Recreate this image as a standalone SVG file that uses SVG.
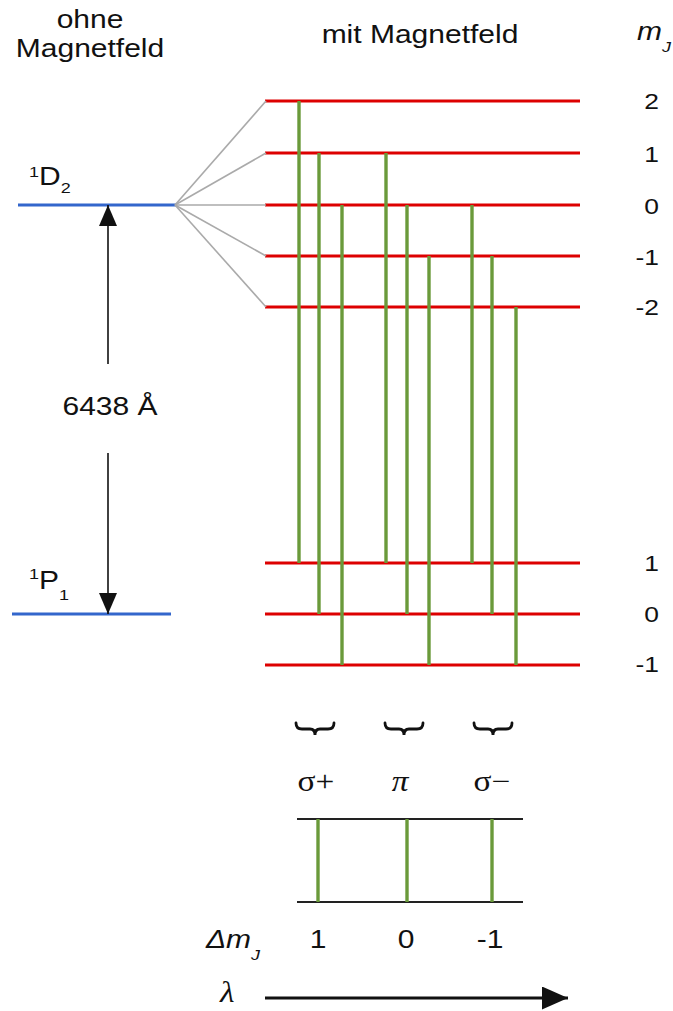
<svg xmlns="http://www.w3.org/2000/svg" width="673" height="1011" viewBox="0 0 673 1011">
<style>
.t{font-family:"Liberation Sans",Arial,sans-serif;font-size:25px;fill:#111}
.n{font-family:"Liberation Sans",Arial,sans-serif;font-size:22px;fill:#111}
.s{font-family:"Liberation Serif","Times New Roman",serif;font-size:29px;fill:#111}
.i{font-style:italic}
.red{stroke:#dd0000;stroke-width:3;fill:none}
.blue{stroke:#3366cc;stroke-width:3;fill:none}
.grn{stroke:#6a9a3a;stroke-width:3.4;fill:none}
.gray{stroke:#aaaaaa;stroke-width:1.6;fill:none}
.blk{stroke:#111;stroke-width:1.6;fill:none}
.box{stroke:#222;stroke-width:2;fill:none}
.brace{stroke:#111;stroke-width:2.8;fill:none;stroke-linecap:round}
</style>
<defs>
<marker id="ah" markerUnits="userSpaceOnUse" markerWidth="21" markerHeight="18" refX="21" refY="9" orient="auto">
<path d="M0,0 L21,9 L0,18 Z" fill="#111"/>
</marker>
<marker id="ahL" markerUnits="userSpaceOnUse" markerWidth="26" markerHeight="23" refX="26" refY="11.5" orient="auto">
<path d="M0,0 L26,11.5 L0,23 Z" fill="#111"/>
</marker>
</defs>
<rect width="673" height="1011" fill="#ffffff"/>

<g id="titles">
<text class="t" text-anchor="middle" transform="translate(90,28) scale(1.2,1)">ohne</text>
<text class="t" text-anchor="middle" transform="translate(90,57) scale(1.2,1)">Magnetfeld</text>
<text class="t" text-anchor="middle" transform="translate(420,43) scale(1.2,1)">mit Magnetfeld</text>
<text class="t i" transform="translate(637,40) scale(1.2,1)">m<tspan font-size="15" dy="12">J</tspan></text>
</g>

<g id="level-1D2">
<line class="blue" x1="18" y1="205" x2="176" y2="205"/>
<text class="t" transform="translate(29,185) scale(1.2,1)"><tspan font-size="15" dy="-8">1</tspan><tspan dy="8">D</tspan><tspan font-size="15" dy="8">2</tspan></text>
</g>

<g id="level-1P1">
<line class="blue" x1="12" y1="614" x2="171" y2="614"/>
<text class="t" transform="translate(29,589) scale(1.2,1)"><tspan font-size="15" dy="-10">1</tspan><tspan dy="10">P</tspan><tspan font-size="15" dy="11">1</tspan></text>
</g>

<g id="wavelength">
<text class="t" text-anchor="middle" transform="translate(110,415) scale(1.2,1)">6438 Å</text>
</g>

<g id="upper-sublevels">
<line class="red" x1="265" y1="101" x2="580" y2="101"/>
<line class="red" x1="265" y1="153" x2="580" y2="153"/>
<line class="red" x1="265" y1="205" x2="580" y2="205"/>
<line class="red" x1="265" y1="256" x2="580" y2="256"/>
<line class="red" x1="265" y1="307" x2="580" y2="307"/>
<text class="n" text-anchor="end" transform="translate(659,109) scale(1.2,1)">2</text>
<text class="n" text-anchor="end" transform="translate(659,162) scale(1.2,1)">1</text>
<text class="n" text-anchor="end" transform="translate(659,214) scale(1.2,1)">0</text>
<text class="n" text-anchor="end" transform="translate(659,265) scale(1.2,1)">-1</text>
<text class="n" text-anchor="end" transform="translate(659,315) scale(1.2,1)">-2</text>
</g>

<g id="lower-sublevels">
<line class="red" x1="265" y1="563" x2="580" y2="563"/>
<line class="red" x1="265" y1="614" x2="580" y2="614"/>
<line class="red" x1="265" y1="665" x2="580" y2="665"/>
<text class="n" text-anchor="end" transform="translate(659,571) scale(1.2,1)">1</text>
<text class="n" text-anchor="end" transform="translate(659,622) scale(1.2,1)">0</text>
<text class="n" text-anchor="end" transform="translate(659,672) scale(1.2,1)">-1</text>
</g>

<g id="connectors">
<line class="gray" x1="175" y1="205" x2="266" y2="101"/>
<line class="gray" x1="175" y1="205" x2="266" y2="153"/>
<line class="gray" x1="175" y1="205" x2="266" y2="205"/>
<line class="gray" x1="175" y1="205" x2="266" y2="256"/>
<line class="gray" x1="175" y1="205" x2="266" y2="307"/>
<line class="blk" x1="108" y1="364" x2="108" y2="205" marker-end="url(#ah)"/>
<line class="blk" x1="108" y1="453" x2="108" y2="614" marker-end="url(#ah)"/>
<line class="grn" x1="299" y1="101" x2="299" y2="563"/>
<line class="grn" x1="319" y1="153" x2="319" y2="614"/>
<line class="grn" x1="342" y1="205" x2="342" y2="665"/>
<line class="grn" x1="386" y1="153" x2="386" y2="563"/>
<line class="grn" x1="407" y1="205" x2="407" y2="614"/>
<line class="grn" x1="429" y1="256" x2="429" y2="665"/>
<line class="grn" x1="472" y1="205" x2="472" y2="563"/>
<line class="grn" x1="492" y1="256" x2="492" y2="614"/>
<line class="grn" x1="516" y1="307" x2="516" y2="665"/>
</g>

<g id="groups">
<path class="brace" d="M296,723 Q296,729 302,729 L310,729 Q315,729 315,735 Q315,729 320,729 L328,729 Q334,729 334,723"/>
<path class="brace" d="M385,723 Q385,729 391,729 L399,729 Q404,729 404,735 Q404,729 409,729 L417,729 Q423,729 423,723"/>
<path class="brace" d="M474,723 Q474,729 480,729 L488,729 Q493,729 493,735 Q493,729 498,729 L506,729 Q512,729 512,723"/>
<text class="s" text-anchor="middle" transform="translate(316,791) scale(1.15,1)">σ+</text>
<text class="s i" text-anchor="middle" transform="translate(400,791) scale(1.15,1)">π</text>
<text class="s" text-anchor="middle" transform="translate(492,791) scale(1.15,1)">σ−</text>
</g>

<g id="spectrum">
<line class="box" x1="297" y1="819" x2="523" y2="819"/>
<line class="box" x1="297" y1="902" x2="523" y2="902"/>
<line class="grn" x1="318" y1="819" x2="318" y2="902"/>
<line class="grn" x1="407" y1="819" x2="407" y2="902"/>
<line class="grn" x1="492" y1="819" x2="492" y2="902"/>
</g>

<g id="delta-mj">
<text class="t i" transform="translate(206,948) scale(1.2,1)">Δm<tspan font-size="15" dy="12">J</tspan></text>
<text class="t" text-anchor="middle" transform="translate(318,948) scale(1.2,1)">1</text>
<text class="t" text-anchor="middle" transform="translate(406,948) scale(1.2,1)">0</text>
<text class="t" text-anchor="middle" transform="translate(490,948) scale(1.2,1)">-1</text>
</g>

<g id="lambda-axis">
<text class="s i" transform="translate(220,1002) scale(1.15,1)">λ</text>
<line x1="265" y1="998" x2="568" y2="998" stroke="#111" stroke-width="3" marker-end="url(#ahL)"/>
</g>
</svg>
